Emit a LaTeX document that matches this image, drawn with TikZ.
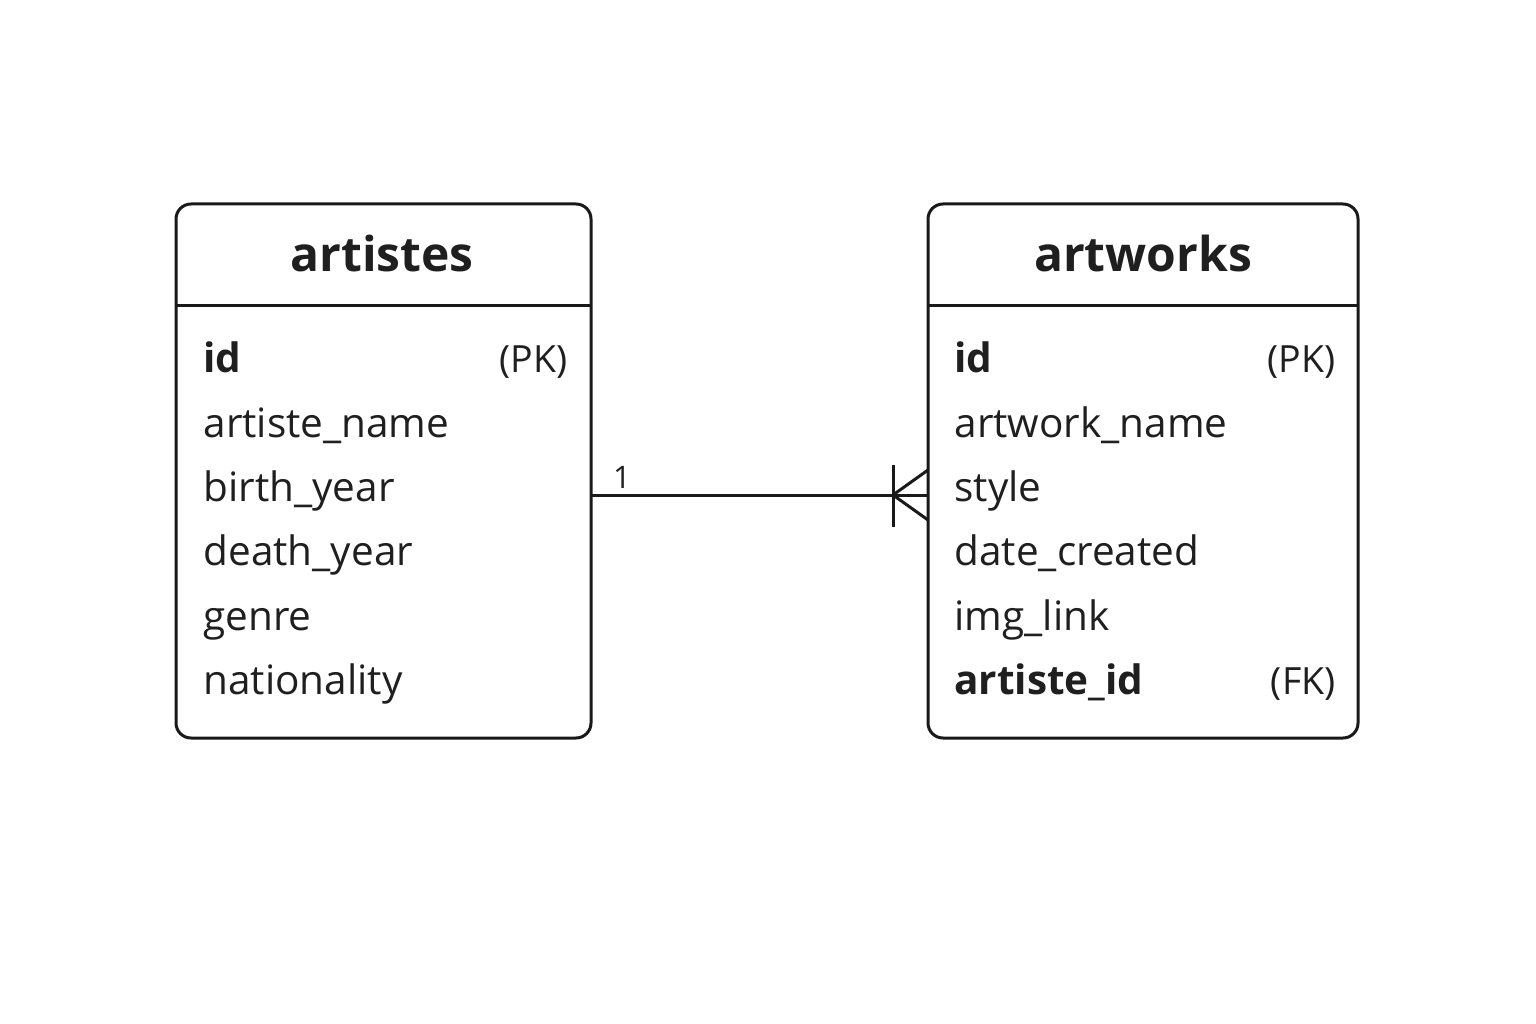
\documentclass[tikz,border=0pt]{standalone}
\usepackage{fontspec}
\setmainfont{Open Sans}
\begin{document}
\begin{tikzpicture}[x=1pt,y=-1pt,line width=3pt,
  table/.style={draw=black!90, rounded corners=15pt, outer sep=0pt, anchor=north west, inner sep=0pt},
  title/.style={font=\fontsize{48}{56}\selectfont\bfseries, text=black!88, anchor=base},
  field/.style={font=\fontsize{40.5}{44}\selectfont, text=black!88, anchor=base west, inner sep=0pt},
  fieldb/.style={field, font=\fontsize{40.5}{44}\selectfont\bfseries},
  key/.style={font=\fontsize{37.5}{44}\selectfont, text=black!88, anchor=base east, inner sep=0pt},
  card/.style={font=\fontsize{31}{32}\selectfont, text=black!88, anchor=base, inner sep=0pt}]
\useasboundingbox[fill=white] (0,0) rectangle (1536,1024);
% tables
\node[table, minimum width=415pt, minimum height=534pt] (A) at (176,204) {};
\node[table, minimum width=430pt, minimum height=534pt] (B) at (928,204) {};
\draw[black!90] (A.west |- 0,305) -- (A.east |- 0,305);
\draw[black!90] (B.west |- 0,305) -- (B.east |- 0,305);
\node[title] (At) at (382,272) {artistes};
\node[title] (Bt) at (1143,272) {artworks};
% left fields
\node[fieldb] (a1) at (202,372) {id};
\node[key] (a1k) at (569,372) {(PK)};
\node[field] (a2) at (202,437) {artiste\_name};
\node[field] (a3) at (202,501) {birth\_year};
\node[field] (a4) at (202,565) {death\_year};
\node[field] (a5) at (202,630) {genre};
\node[field] (a6) at (202,694) {nationality};
% right fields
\node[fieldb] (b1) at (953,372) {id};
\node[key] (b1k) at (1337,372) {(PK)};
\node[field] (b2) at (953,437) {artwork\_name};
\node[field] (b3) at (953,501) {style};
\node[field] (b4) at (953,565) {date\_created};
\node[field] (b5) at (953,630) {img\_link};
\node[fieldb] (b6) at (953,694) {artiste\_id};
\node[key] (b6k) at (1337,694) {(FK)};
% connector
\coordinate (cf) at (893,495);
\draw[black!90] (A.east |- cf) -- (B.west |- cf);
\draw[black!90] (893,465) -- (893,527);
\draw[black!90] (B.west |- 0,470) -- (cf) -- (B.west |- 0,520);
\node[card] (one) at (622,488) {1};
\end{tikzpicture}
\end{document}
